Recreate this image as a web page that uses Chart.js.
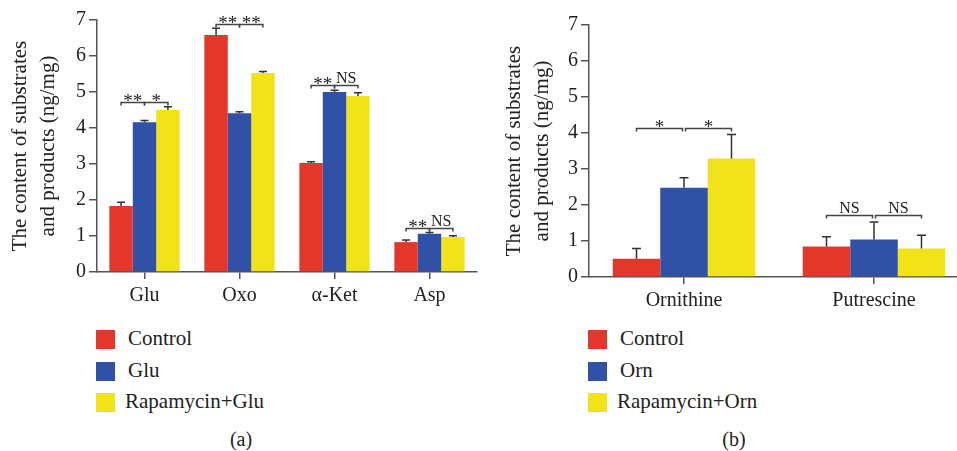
<!DOCTYPE html>
<html><head><meta charset="utf-8">
<script src="https://cdn.jsdelivr.net/npm/chart.js@4"></script>
<style>
html,body{margin:0;padding:0;background:#fff;width:957px;height:451px;overflow:hidden;position:relative;font-family:"Liberation Serif",serif;color:#222}
#wa{position:absolute;left:0;top:0;width:480px;height:320px}
#wb{position:absolute;left:480px;top:0;width:500px;height:320px}
.leg{position:absolute;font-size:21px;line-height:21px;white-space:nowrap}
.sw{position:absolute;width:19px;height:19px}
.cap{position:absolute;font-size:20px;transform:translateX(-50%)}
</style></head><body>
<div id="wa"><canvas id="ca"></canvas></div>
<div id="wb"><canvas id="cb"></canvas></div>
<div id="legA"></div><div id="legB"></div>
<div class="cap" style="left:241px;top:428px">(a)</div>
<div class="cap" style="left:734px;top:428px">(b)</div>
<script>
// ---- data ----
const categoriesA = ['Glu', 'Oxo', 'α-Ket', 'Asp'];
const seriesA = ['Control', 'Glu', 'Rapamycin+Glu'];
const controlA = [1.83, 6.58, 3.03, 0.83];
const gluA = [4.16, 4.41, 5.00, 1.06];
const rapaGluA = [4.50, 5.53, 4.89, 0.97];
const errControlA = [0.11, 0.19, 0.03, 0.06];
const errGluA = [0.05, 0.04, 0.05, 0.04];
const errRapaGluA = [0.09, 0.04, 0.09, 0.04];
const sigLevelA = [4.73, 6.88, 5.19, 1.21];
const sigLabelsA = [['**', '*'], ['**', '**'], ['**', 'NS'], ['**', 'NS']];

const categoriesB = ['Ornithine', 'Putrescine'];
const seriesB = ['Control', 'Orn', 'Rapamycin+Orn'];
const controlB = [0.51, 0.85];
const ornB = [2.48, 1.04];
const rapaOrnB = [3.29, 0.79];
const errControlB = [0.28, 0.27];
const errOrnB = [0.28, 0.49];
const errRapaOrnB = [0.67, 0.37];
const sigLevelB = [4.14, 1.73];
const sigLabelsB = [['*', '*'], ['NS', 'NS']];

const yTicks = [0, 1, 2, 3, 4, 5, 6, 7];
const colors = ['#E2372A', '#3151A6', '#F1E21A'];
const axisColor = '#555';
const textColor = '#222';
const FAMILY = '"Liberation Serif", serif';

const errPlugin = {
  id: 'errbars',
  afterDatasetsDraw(chart) {
    const ctx = chart.ctx, y = chart.scales.y;
    const capW = chart.options.plugins.errbars.cap;
    ctx.save();
    ctx.strokeStyle = '#333';
    ctx.lineWidth = 1.5;
    chart.data.datasets.forEach((ds, i) => {
      chart.getDatasetMeta(i).data.forEach((bar, j) => {
        const yb = y.getPixelForValue(ds.data[j]);
        const yt = y.getPixelForValue(ds.data[j] + ds.errors[j]);
        ctx.beginPath();
        ctx.moveTo(bar.x, yb); ctx.lineTo(bar.x, yt);
        ctx.moveTo(bar.x - capW / 2, yt); ctx.lineTo(bar.x + capW / 2, yt);
        ctx.stroke();
      });
    });
    ctx.restore();
  }
};
const sigPlugin = {
  id: 'sig',
  afterDatasetsDraw(chart) {
    const o = chart.options.plugins.sig;
    const ctx = chart.ctx, y = chart.scales.y;
    ctx.save();
    ctx.strokeStyle = '#444';
    ctx.lineWidth = 1.5;
    ctx.fillStyle = textColor;
    ctx.textAlign = 'center';
    ctx.textBaseline = 'alphabetic';
    o.levels.forEach((lv, j) => {
      const xs = [0, 1, 2].map(i => chart.getDatasetMeta(i).data[j].x);
      const py = Math.round(y.getPixelForValue(lv)) + 0.5;
      const segs = [[xs[0], xs[1] - o.gap / 2], [xs[1] + o.gap / 2, xs[2]]];
      segs.forEach((s, k) => {
        ctx.beginPath();
        ctx.moveTo(s[0], py + 3); ctx.lineTo(s[0], py); ctx.lineTo(s[1], py); ctx.lineTo(s[1], py + 3);
        ctx.stroke();
        const lab = o.labels[j][k];
        const isNS = lab === 'NS';
        ctx.font = (isNS ? '16px ' : '19px ') + FAMILY;
        ctx.fillText(lab, (s[0] + s[1]) / 2, py + (isNS ? -3 : 4));
      });
    });
    ctx.restore();
  }
};

function makeChart(id, cats, series, vals, errs, opt) {
  return new Chart(document.getElementById(id), {
    type: 'bar',
    data: {
      labels: cats,
      datasets: series.map((s, i) => ({
        label: s, data: vals[i], errors: errs[i],
        backgroundColor: colors[i], borderWidth: 0,
        categoryPercentage: opt.catPct, barPercentage: 1.0
      }))
    },
    options: {
      responsive: true, maintainAspectRatio: false, animation: false,
      layout: { padding: { left: 0, right: opt.padR, top: opt.padT, bottom: 0 } },
      plugins: {
        legend: { display: false }, tooltip: { enabled: false },
        errbars: { cap: opt.cap },
        sig: { levels: opt.sigLevels, labels: opt.sigLabels, gap: opt.gap }
      },
      scales: {
        x: {
          offset: true,
          grid: { display: true, offset: false, drawOnChartArea: false, drawTicks: true, tickLength: 7, color: axisColor, lineWidth: 1.5 },
          border: { display: true, color: axisColor, width: 1.5 },
          ticks: { color: textColor, font: { family: FAMILY, size: 20 }, padding: 5, maxRotation: 0 },
          afterFit(s) { s.height = opt.xH; }
        },
        y: {
          min: 0, max: 7,
          afterBuildTicks(s) { s.ticks = yTicks.map(v => ({ value: v })); },
          grid: { display: true, drawOnChartArea: false, drawTicks: true, tickLength: 8, color: axisColor, lineWidth: 1.5 },
          border: { display: true, color: axisColor, width: 1.5 },
          ticks: { color: textColor, font: { family: FAMILY, size: 20 }, padding: 3 },
          title: { display: true, text: ['The content of substrates', 'and products (ng/mg)'], color: textColor,
                   font: { family: FAMILY, size: 21, lineHeight: 1.35 }, padding: { top: opt.titleOff, bottom: 0 } },
          afterFit(s) { s.width = opt.yW; }
        }
      }
    },
    plugins: [errPlugin, sigPlugin]
  });
}

makeChart('ca', categoriesA, seriesA, [controlA, gluA, rapaGluA], [errControlA, errGluA, errRapaGluA],
  { catPct: 0.74, padR: 3, padT: 20, xH: 48, yW: 97, cap: 8, sigLevels: sigLevelA, sigLabels: sigLabelsA, gap: 0, titleOff: 6 });
makeChart('cb', categoriesB, seriesB, [controlB, ornB, rapaOrnB], [errControlB, errOrnB, errRapaOrnB],
  { catPct: 0.75, padR: 11, padT: 25, xH: 43, yW: 109, cap: 9, sigLevels: sigLevelB, sigLabels: sigLabelsB, gap: 3, titleOff: 20 });

function legend(elId, series, swX, txX) {
  const el = document.getElementById(elId);
  const rows = [339, 371, 402];
  series.forEach((s, i) => {
    const sw = document.createElement('div');
    sw.className = 'sw'; sw.style.background = colors[i];
    sw.style.left = swX + 'px'; sw.style.top = (rows[i] - 9.5) + 'px';
    el.appendChild(sw);
    const t = document.createElement('div');
    t.className = 'leg'; t.textContent = s;
    t.style.left = txX[i] + 'px'; t.style.top = (rows[i] - 11) + 'px';
    el.appendChild(t);
  });
}
legend('legA', seriesA, 96, [128, 128, 125]);
legend('legB', seriesB, 588, [620, 620, 617]);
</script>
</body></html>
